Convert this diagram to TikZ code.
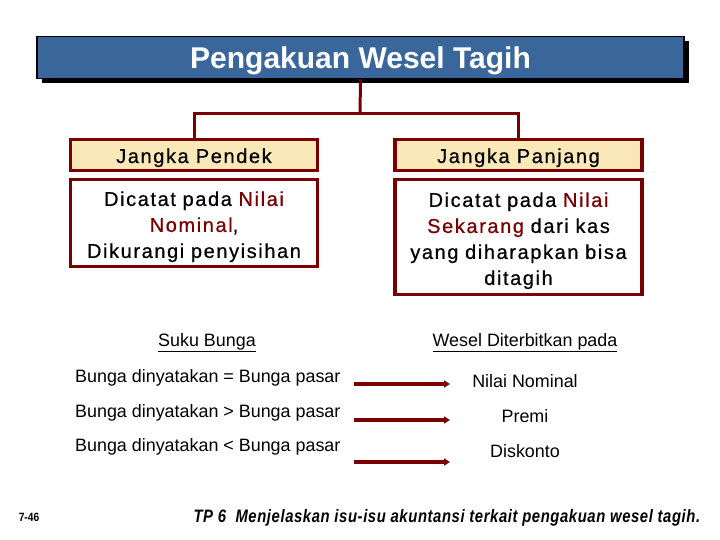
\documentclass[tikz,border=0pt]{standalone}
\usepackage{fontspec}
\setmainfont{Liberation Sans}
\newfontfamily\spacedfont[LetterSpace=8, FakeBold=0.6]{Liberation Sans}
\newfontfamily\footfont[LetterSpace=4]{Liberation Sans}
\usepackage{tikz}
\usetikzlibrary{arrows.meta,positioning,shadows,calc}

\definecolor{titleblue}{RGB}{58,103,155}
\definecolor{darkred}{RGB}{122,0,0}
\definecolor{paleyellow}{RGB}{250,232,184}

\tikzset{
  titlebox/.style={draw=black, line width=1.5pt, fill=titleblue,
    minimum width=647pt, minimum height=42pt, text=white,
    text height=21.5pt, text depth=0pt,
    font=\fontsize{30}{34}\selectfont\bfseries,
    drop shadow={shadow xshift=5pt, shadow yshift=-5pt, fill=black, opacity=1}},
  headbox/.style={draw=darkred, line width=3.5pt, fill=paleyellow,
    minimum width=247pt, minimum height=31pt, inner sep=0pt,
    text height=16pt, text depth=0pt,
    font=\spacedfont\fontsize{20}{26}\selectfont},
  notebox/.style={draw=darkred, line width=3.5pt, fill=white,
    text width=244pt, align=center, inner sep=0pt, minimum width=247pt,
    font=\spacedfont\fontsize{20}{26}\selectfont},
  link/.style={draw=darkred, line width=3pt},
  rate/.style={anchor=base west, inner sep=0pt, font=\fontsize{17.9}{20}\selectfont},
  result/.style={anchor=base, inner sep=0pt, font=\fontsize{17.9}{20}\selectfont},
  pointer/.style={draw=darkred, line width=3.5pt,
    -{Triangle[length=6pt,width=7pt]}},
}
\newcommand{\hl}[1]{\textcolor{darkred}{#1}}
\newcommand{\topgap}{\rule{0pt}{22pt}}

\begin{document}
\begin{tikzpicture}[x=1pt,y=-1pt]
        \useasboundingbox (0,0) rectangle (720,540);

        % Title
        \node[titlebox] (title) at (360.5,57.5) {Pengakuan Wesel Tagih};

        % Two kinds of notes
        \node[headbox] (pendek) at (194,155) {Jangka Pendek};
        \node[headbox] (panjang) at (518.5,155) {Jangka Panjang};
        \node[notebox, minimum height=87pt] (pendeknote) at (194,223)
          {\topgap Dicatat pada \hl{Nilai}\\\hl{Nominal},\\Dikurangi penyisihan};
        \node[notebox, minimum height=115pt] (panjangnote) at (518.5,237)
          {\topgap Dicatat pada \hl{Nilai}\\\hl{Sekarang} dari kas\\yang diharapkan bisa\\ditagih};

        % Connector
        \coordinate (fork) at (360,114);
        \draw[link] (title.south) -- (fork);
        \draw[link] (fork) -| (pendek.north);
        \draw[link] (fork) -| (panjang.north);

        % Interest rate table
        \node[result] (hdrate) at (207,346) {\underline{Suku Bunga}};
        \node[result] (hdissue) at (525,346) {\underline{Wesel Diterbitkan pada}};

        \node[rate] (rate1) at (75,382) {Bunga dinyatakan = Bunga pasar};
        \node[rate] (rate2) at (75,417) {Bunga dinyatakan > Bunga pasar};
        \node[rate] (rate3) at (75,451) {Bunga dinyatakan < Bunga pasar};

        \node[result] (res1) at (525,387) {Nilai Nominal};
        \node[result] (res2) at (525,422) {Premi};
        \node[result] (res3) at (525,457) {Diskonto};

        % Arrows
        \foreach \i/\y in {1/384,2/420,3/462}
        {
          \coordinate (from\i) at (354,\y);
          \coordinate (to\i) at (450,\y);
          \draw[pointer] (from\i) -- (to\i);
        }

        % Footer
        \node[font=\fontsize{12}{14}\selectfont\bfseries] (slide) at (29,517) {\scalebox{0.85}[1]{7-46}};
        \node[anchor=base west, font=\footfont\fontsize{18}{20}\selectfont\bfseries\itshape] (objective) at (190,522)
          {\scalebox{0.825}[1]{TP 6\ \ Menjelaskan isu-isu akuntansi terkait pengakuan wesel tagih.}};
\end{tikzpicture}
\end{document}
